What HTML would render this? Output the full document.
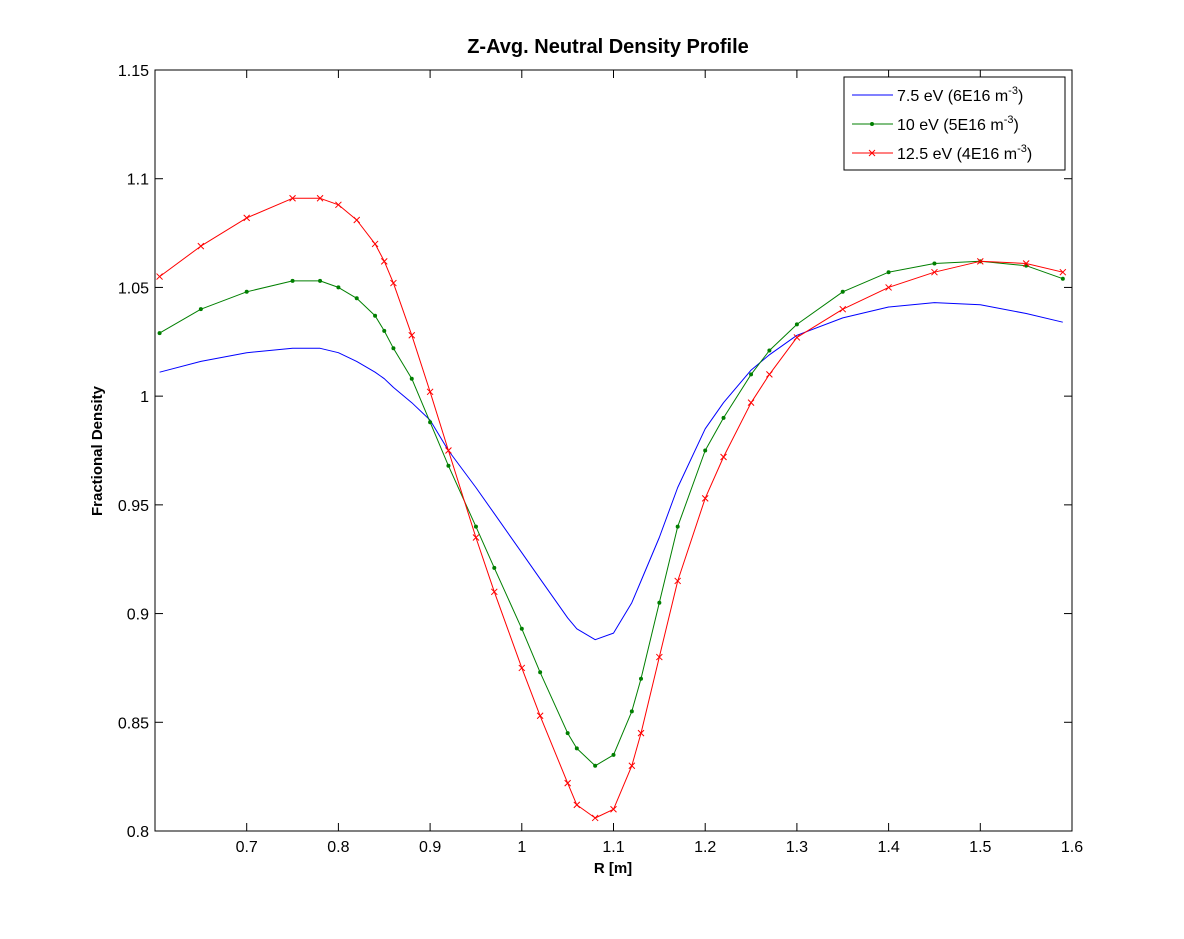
<!DOCTYPE html>
<html><head><meta charset="utf-8"><style>
body{margin:0;background:#fff;}
svg text{font-family:"Liberation Sans",Arial,sans-serif;}
</style></head><body>
<svg id="chart" width="1184" height="934" xmlns="http://www.w3.org/2000/svg">
<rect x="0" y="0" width="1184" height="934" fill="#fff"/>
<text x="608" y="53" font-size="20" font-weight="bold" text-anchor="middle">Z-Avg. Neutral Density Profile</text>
<g id="axes"></g>
<g id="series"></g>
<text x="613" y="873" font-size="15" font-weight="bold" text-anchor="middle">R [m]</text>
<text transform="translate(102,451) rotate(-90)" font-size="15" font-weight="bold" text-anchor="middle">Fractional Density</text>
<g>
<rect x="844" y="77" width="221" height="93" fill="#fff" stroke="#000" stroke-width="1"/>
<line x1="852" y1="95" x2="893" y2="95" stroke="#0000ff"/>
<text x="897" y="101" font-size="16">7.5 eV (6E16 m<tspan dy="-7" font-size="11">-3</tspan><tspan dy="7">)</tspan></text>
<line x1="852" y1="124" x2="893" y2="124" stroke="#007f00"/>
<circle cx="872" cy="124" r="2" fill="#007f00"/>
<text x="897" y="130" font-size="16">10 eV (5E16 m<tspan dy="-7" font-size="11">-3</tspan><tspan dy="7">)</tspan></text>
<line x1="852" y1="153" x2="893" y2="153" stroke="#ff0000"/>
<path d="M869,150L875,156M875,150L869,156" stroke="#ff0000"/>
<text x="897" y="159" font-size="16">12.5 eV (4E16 m<tspan dy="-7" font-size="11">-3</tspan><tspan dy="7">)</tspan></text>
</g>
</svg>
<script>
const xValues=[0.605,0.65,0.7,0.75,0.78,0.8,0.82,0.84,0.85,0.86,0.88,0.9,0.92,0.95,0.97,1.0,1.02,1.05,1.06,1.08,1.1,1.12,1.13,1.15,1.17,1.2,1.22,1.25,1.27,1.3,1.35,1.4,1.45,1.5,1.55,1.59];
const blueValues=[1.011,1.016,1.020,1.022,1.022,1.020,1.016,1.011,1.008,1.004,0.997,0.989,0.975,0.958,0.946,0.928,0.916,0.898,0.893,0.888,0.891,0.905,0.915,0.935,0.958,0.985,0.997,1.012,1.019,1.028,1.036,1.041,1.043,1.042,1.038,1.034];
const greenValues=[1.029,1.040,1.048,1.053,1.053,1.050,1.045,1.037,1.030,1.022,1.008,0.988,0.968,0.940,0.921,0.893,0.873,0.845,0.838,0.830,0.835,0.855,0.870,0.905,0.940,0.975,0.990,1.010,1.021,1.033,1.048,1.057,1.061,1.062,1.060,1.054];
const redValues=[1.055,1.069,1.082,1.091,1.091,1.088,1.081,1.070,1.062,1.052,1.028,1.002,0.975,0.935,0.910,0.875,0.853,0.822,0.812,0.806,0.810,0.830,0.845,0.880,0.915,0.953,0.972,0.997,1.010,1.027,1.040,1.050,1.057,1.062,1.061,1.057];
const xTicks=["0.7","0.8","0.9","1","1.1","1.2","1.3","1.4","1.5","1.6"];
const yTicks=["0.8","0.85","0.9","0.95","1","1.05","1.1","1.15"];
const NS="http://www.w3.org/2000/svg";
const L=155,R=1072,T=70,B=831,XMIN=0.6,XMAX=1.6,YMIN=0.8,YMAX=1.15;
const sx=v=>L+(v-XMIN)/(XMAX-XMIN)*(R-L);
const sy=v=>B-(v-YMIN)/(YMAX-YMIN)*(B-T);
function mk(tag,attrs,parent){const e=document.createElementNS(NS,tag);for(const k in attrs)e.setAttribute(k,attrs[k]);parent.appendChild(e);return e;}
const axes=document.getElementById('axes');
const frame=mk('rect',{x:L,y:T,width:R-L,height:B-T,fill:'none',stroke:'#000'},axes);


xTicks.forEach(t=>{const x=sx(parseFloat(t));
mk('line',{x1:x,y1:B,x2:x,y2:B-8,stroke:'#000'},axes);
mk('line',{x1:x,y1:T,x2:x,y2:T+8,stroke:'#000'},axes);
const tx=mk('text',{x:x,y:B+21,'font-size':16,'text-anchor':'middle'},axes);tx.textContent=t;

});
yTicks.forEach(t=>{const y=sy(parseFloat(t));
mk('line',{x1:L,y1:y,x2:L+8,y2:y,stroke:'#000'},axes);
mk('line',{x1:R,y1:y,x2:R-8,y2:y,stroke:'#000'},axes);
const tx=mk('text',{x:L-6,y:y+6,'font-size':16,'text-anchor':'end'},axes);tx.textContent=t;

});
const sg=document.getElementById('series');
function draw(vals,color,marker,name){
const g=mk('g',{},sg);


const pts=vals.map((v,i)=>sx(xValues[i]).toFixed(1)+','+sy(v).toFixed(1)).join(' ');
mk('polyline',{points:pts,fill:'none',stroke:color,'stroke-width':1,'stroke-linejoin':'round'},g);
vals.forEach((v,i)=>{const x=sx(xValues[i]),y=sy(v);
if(marker==='dot')mk('circle',{cx:x,cy:y,r:2,fill:color},g);
else if(marker==='x')mk('path',{d:`M${x-3},${y-3}L${x+3},${y+3}M${x+3},${y-3}L${x-3},${y+3}`,stroke:color},g);});
}
draw(blueValues,'#0000ff',null,'series-7.5ev');
draw(greenValues,'#007f00','dot','series-10ev');
draw(redValues,'#ff0000','x','series-12.5ev');
</script>
</body></html>
